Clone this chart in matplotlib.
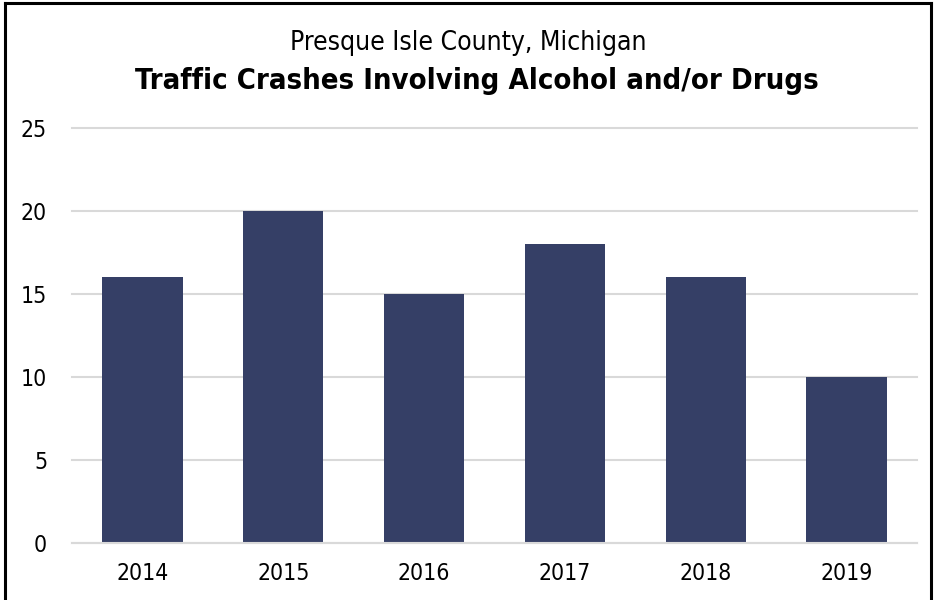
import matplotlib
matplotlib.use("Agg")
import matplotlib.pyplot as plt
from matplotlib.lines import Line2D

years = ["2014", "2015", "2016", "2017", "2018", "2019"]
crashes = [16, 20, 15, 18, 16, 10]
yticks = [0, 5, 10, 15, 20, 25]

plt.rcParams['font.family'] = ['DejaVu Sans']
FS = dict(fontstretch='condensed')

fig = plt.figure(figsize=(9.36, 6.0), dpi=100)
ax = fig.add_axes([72/936, 1 - 543/600, 845/936, (543-128)/600])

x = range(len(years))
ax.bar(x, crashes, width=0.57, color="#353F66", zorder=3)
ax.set_xlim(-0.5, len(years) - 0.5)
ax.set_ylim(0, 25)
ax.set_yticks(yticks)
ax.set_yticklabels([str(t) for t in yticks], fontsize=16.5, **FS)
ax.set_xticks(list(x))
ax.set_xticklabels(years, fontsize=16.5, **FS)
ax.grid(axis='y', color="#D9D9D9", linewidth=1.5, zorder=0)
for gl in ax.get_ygridlines():
    gl.set_clip_on(False)
for s in ax.spines.values():
    s.set_visible(False)
ax.axhline(0, color="#D9D9D9", linewidth=1.5, zorder=4, clip_on=False)
ax.tick_params(axis='both', length=0)
ax.tick_params(axis='y', pad=18)
ax.tick_params(axis='x', pad=14)

fig.text(0.5, 1 - 43/600, "Presque Isle County, Michigan", ha='center', va='center',
         fontsize=19, **FS)
fig.text(477/936, 1 - 81/600, "Traffic Crashes Involving Alcohol and/or Drugs", ha='center',
         va='center', fontsize=21, fontweight='bold', **FS)

kw = dict(transform=fig.transFigure, color='black', linewidth=2.2)
fig.lines.append(Line2D([5/936, 5/936], [0, 1 - 3/600], **kw))
fig.lines.append(Line2D([931/936, 931/936], [0, 1 - 3/600], **kw))
fig.lines.append(Line2D([5/936, 931/936], [1 - 3/600, 1 - 3/600], **kw))

fig.savefig("out.png", dpi=100)
